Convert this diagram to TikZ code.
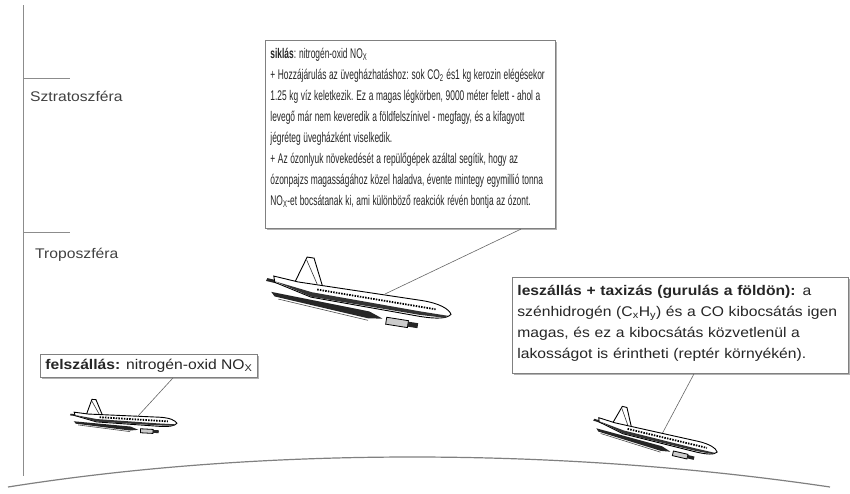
\documentclass[tikz,border=0pt]{standalone}
\usepackage{fontspec}
\setmainfont[FakeStretch=1.12]{Liberation Sans}
\newfontfamily\narrowF[FakeStretch=0.6]{Liberation Sans}
\newcommand\tightspaces{\spaceskip=2.6pt plus 1pt minus 0.5pt\relax\xspaceskip=3pt\relax}
\usetikzlibrary{shadows,calc}
\tikzset{
  txt/.style={text=black!85, align=left},
  box/.style={txt, draw=black!50, line width=0.8pt, fill=white,
    drop shadow={shadow xshift=1.5pt, shadow yshift=-1.5pt, fill=black!30, opacity=1},
    inner xsep=5pt, inner ysep=8pt},
  conn/.style={draw=black!60, line width=0.6pt},
  axis/.style={draw=black!45, line width=1pt},
  layer/.style={text=black!75, font=\fontsize{14}{16}\selectfont, anchor=base west, inner sep=0pt},
  plane/.pic={
    \fill[black!85] (-6,-2) -- (34,1) -- (32,4) -- (-7,1) -- cycle;
    \draw[fill=white, line width=0.9pt] (22,-3) -- (30,-29) -- (37,-29) -- (50,-2);
    \draw[black!80, line width=0.6pt] (30,-26) -- (44,-4);
    \draw[fill=white, line width=0.9pt] (0,-5) -- (25,-3) -- (150,-4) .. controls (168,-4) and (178,0) .. (181,5) .. controls (178,10) and (168,12) .. (150,12) -- (40,10) -- (2,1) -- cycle;
    \fill[black!80] (2,0) -- (40,5) -- (150,7) -- (178,7) -- (175,9.5) -- (150,10.5) -- (40,9.5) -- cycle;
    \draw[line width=1.8pt, dash pattern=on 1.5pt off 1.2pt] (45,1.5) -- (165,2.5);
    \fill[black!85] (0,11) -- (100,15) -- (114,20) -- (100,22) -- (4,15) -- cycle;
    \draw[black!70, line width=0.6pt] (8,17) -- (100,24);
    \draw[fill=black!20, line width=0.8pt] (118,18) rectangle (140,25);
    \fill[black!85] (140,19) rectangle (150,24);
  }
}
\begin{document}
\begin{tikzpicture}[x=1pt,y=-1pt]
\useasboundingbox (0,0) rectangle (850,493);
% axis
\draw[axis] (23,5) -- (23,476);
\draw[axis] (23,78) -- (70,78);
\draw[axis] (23,232) -- (70,232);
\node[layer] (strato) at (30,101) {Sztratoszféra};
\node[layer] (tropo) at (35,258) {Troposzféra};
% ground
\draw[draw=black!50, line width=1.2pt] (8,487) .. controls (260,447) and (560,447) .. (830,487);
% boxes
\node[box, anchor=north west, text width=280pt, font=\narrowF\fontsize{14}{21}\selectfont] (sikl) at (265,40)
{\tightspaces\textbf{siklás}: nitrogén-oxid NO\textsubscript{X}\\
+ Hozzájárulás az üvegházhatáshoz: sok CO\textsubscript{2} és1 kg kerozin elégésekor\\
1.25 kg víz keletkezik. Ez a magas légkörben, 9000 méter felett - ahol a\\
levegő már nem keveredik a földfelszínivel - megfagy, és a kifagyott\\
jégréteg üvegházként viselkedik.\\
+ Az ózonlyuk növekedését a repülőgépek azáltal segítik, hogy az\\
ózonpajzs magasságához közel haladva, évente mintegy egymillió tonna\\
NO\textsubscript{X}-et bocsátanak ki, ami különböző reakciók révén bontja az ózont.\rule[-15pt]{0pt}{15pt}};
\node[box, anchor=north west, text width=326pt, font=\fontsize{14}{21}\selectfont] (lesz) at (512,277)
{\textbf{leszállás + taxizás (gurulás a földön):} a\\
szénhidrogén (C\textsubscript{x}H\textsubscript{y}) és a CO kibocsátás igen\\
magas, és ez a kibocsátás közvetlenül a\\
lakosságot is érintheti (reptér környékén).\rule[-7pt]{0pt}{7pt}};
\node[box, anchor=north west, inner ysep=5pt, font=\fontsize{14}{21}\selectfont] (felsz) at (40,354)
{\textbf{felszállás:} nitrogén-oxid NO\textsubscript{X}};
% hooks on planes
\coordinate (bighook) at (385,294);
\coordinate (lefthook) at (138,416);
\coordinate (righthook) at (662,434);
\draw[conn] ($(sikl.south west)!0.88!(sikl.south east)$) -- (bighook);
\draw[conn] ($(lesz.south west)!0.54!(lesz.south east)$) -- (righthook);
\draw[conn] ($(felsz.south west)!0.61!(felsz.south east)$) -- (lefthook);
% planes
\pic[rotate=-9] (bigplane) at (273,281) {plane};
\pic[scale=0.57, rotate=-3] (leftplane) at (74,415) {plane};
\pic[scale=0.68, rotate=-13] (rightplane) at (598,421) {plane};
\end{tikzpicture}
\end{document}
